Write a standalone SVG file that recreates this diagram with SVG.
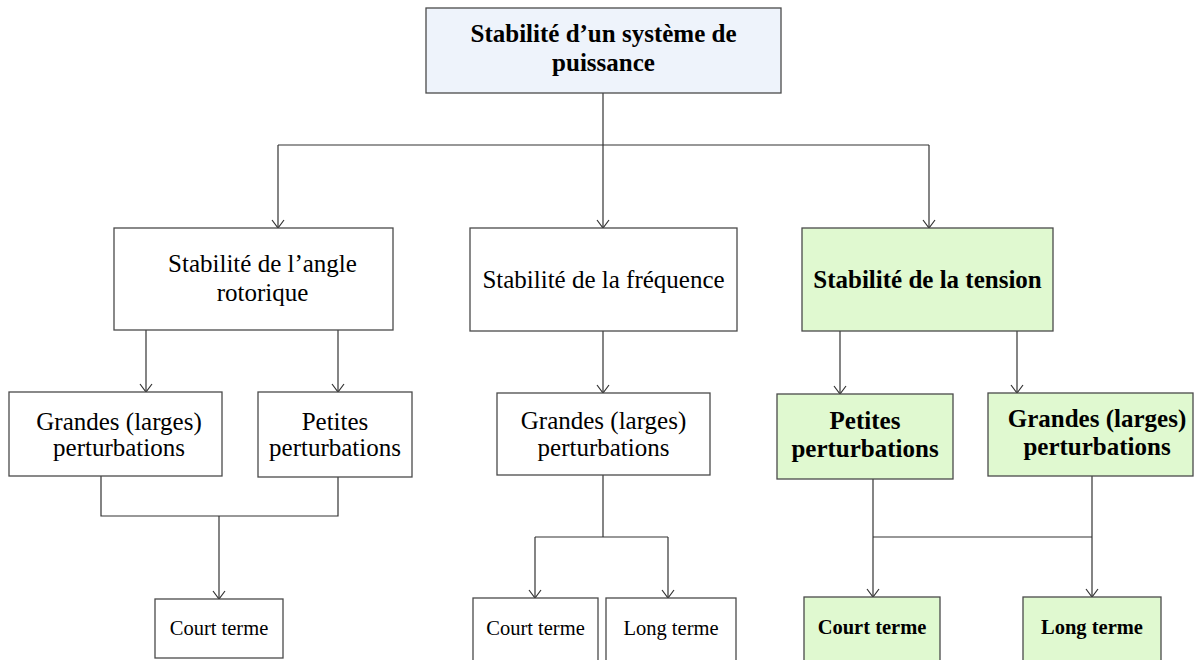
<svg xmlns="http://www.w3.org/2000/svg" width="1194" height="660" viewBox="0 0 1194 660">
<defs>
<style>
.bx{stroke:#4a4a4a;stroke-width:1.3;fill:#fff}
.blue{fill:#eef3fb}
.green{fill:#e0f9d0}
.t{font-family:"Liberation Serif","Times New Roman",serif;font-size:25px;fill:#000;text-anchor:middle}
.b{font-weight:bold}
.s{font-size:20.5px}
.c{fill:none;stroke:#333;stroke-width:1.2}
</style>
<marker id="ar" markerUnits="userSpaceOnUse" viewBox="-1 -7 10 14" markerWidth="10" markerHeight="14" refX="8" refY="0" orient="auto">
<path d="M0,-6 L8,0 L0,6" fill="none" stroke="#333" stroke-width="1.2"/>
</marker>
</defs>
<rect width="1194" height="660" fill="#fff"/>

<g id="connectors">
<path class="c" d="M603,93 V228" marker-end="url(#ar)"/>
<path class="c" d="M278,145 H929"/>
<path class="c" d="M278,145 V228" marker-end="url(#ar)"/>
<path class="c" d="M929,145 V228" marker-end="url(#ar)"/>
<path class="c" d="M146,330 V392" marker-end="url(#ar)"/>
<path class="c" d="M338,330 V392" marker-end="url(#ar)"/>
<path class="c" d="M101,476 V516 H338 V477"/>
<path class="c" d="M219,516 V599" marker-end="url(#ar)"/>
<path class="c" d="M603,331 V393" marker-end="url(#ar)"/>
<path class="c" d="M603,475 V537"/>
<path class="c" d="M535,537 H668"/>
<path class="c" d="M535,537 V598" marker-end="url(#ar)"/>
<path class="c" d="M668,537 V598" marker-end="url(#ar)"/>
<path class="c" d="M840,331 V394" marker-end="url(#ar)"/>
<path class="c" d="M1017,331 V393" marker-end="url(#ar)"/>
<path class="c" d="M873,479 V597" marker-end="url(#ar)"/>
<path class="c" d="M1092,476 V597" marker-end="url(#ar)"/>
<path class="c" d="M873,537 H1092"/>
</g>

<g id="root">
<rect class="bx blue" x="426" y="8" width="355" height="85"/>
<text class="t b" x="603.5" y="42">Stabilité d’un système de</text>
<text class="t b" x="603.5" y="71">puissance</text>
</g>

<g id="angle">
<rect class="bx" x="114" y="228" width="279" height="102"/>
<text class="t" x="262.5" y="272">Stabilité de l’angle</text>
<text class="t" x="262.5" y="301">rotorique</text>
</g>

<g id="frequence">
<rect class="bx" x="470" y="228" width="267" height="103"/>
<text class="t" x="603.5" y="288">Stabilité de la fréquence</text>
</g>

<g id="tension">
<rect class="bx green" x="802" y="228" width="251" height="103"/>
<text class="t b" x="927.5" y="288">Stabilité de la tension</text>
</g>

<g id="angle-grandes">
<rect class="bx" x="9" y="392" width="213" height="84"/>
<text class="t" x="119" y="430">Grandes (larges)</text>
<text class="t" x="119" y="456">perturbations</text>
</g>

<g id="angle-petites">
<rect class="bx" x="258" y="392" width="154" height="85"/>
<text class="t" x="335" y="430">Petites</text>
<text class="t" x="335" y="456">perturbations</text>
</g>

<g id="freq-grandes">
<rect class="bx" x="497" y="393" width="213" height="82"/>
<text class="t" x="603.5" y="429">Grandes (larges)</text>
<text class="t" x="603.5" y="456">perturbations</text>
</g>

<g id="tension-petites">
<rect class="bx green" x="777" y="394" width="176" height="85"/>
<text class="t b" x="865" y="429">Petites</text>
<text class="t b" x="865" y="457">perturbations</text>
</g>

<g id="tension-grandes">
<rect class="bx green" x="988" y="393" width="205" height="83"/>
<text class="t b" x="1097" y="427">Grandes (larges)</text>
<text class="t b" x="1097" y="455">perturbations</text>
</g>

<g id="angle-court">
<rect class="bx" x="155" y="599" width="128" height="59"/>
<text class="t s" x="219" y="635">Court terme</text>
</g>

<g id="freq-court">
<rect class="bx" x="473" y="598" width="125" height="66"/>
<text class="t s" x="535.5" y="635">Court terme</text>
</g>

<g id="freq-long">
<rect class="bx" x="606" y="598" width="130" height="66"/>
<text class="t s" x="671" y="635">Long terme</text>
</g>

<g id="tension-court">
<rect class="bx green" x="804" y="597" width="136" height="67"/>
<text class="t b s" x="872" y="634">Court terme</text>
</g>

<g id="tension-long">
<rect class="bx green" x="1023" y="597" width="138" height="67"/>
<text class="t b s" x="1092" y="634">Long terme</text>
</g>
</svg>
